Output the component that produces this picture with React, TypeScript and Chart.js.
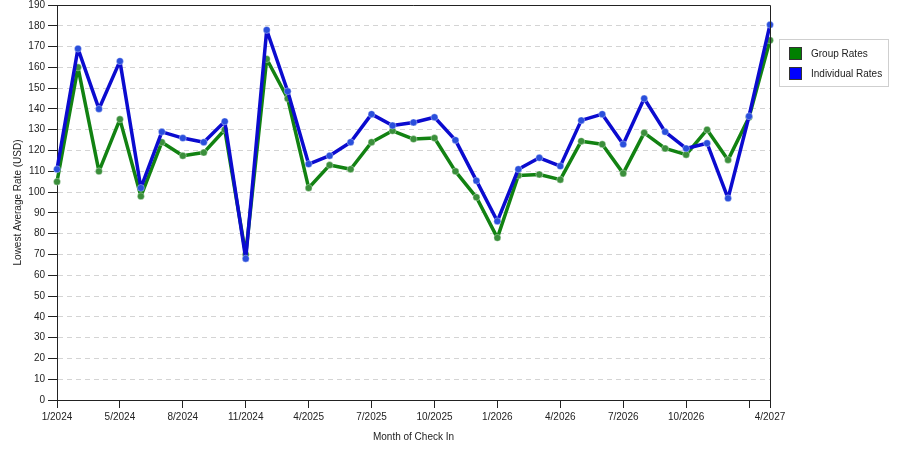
import { useEffect, useRef } from "react";
import { Chart, registerables } from "chart.js";
Chart.register(...registerables);

// months that have data (some months are missing from the source)
const months = [
  "1/2024", "2/2024", "3/2024", "5/2024", "6/2024", "7/2024", "8/2024", "9/2024",
  "10/2024", "11/2024", "12/2024", "2/2025", "4/2025", "5/2025", "6/2025", "7/2025",
  "8/2025", "9/2025", "10/2025", "11/2025", "12/2025", "1/2026", "2/2026", "3/2026",
  "4/2026", "5/2026", "6/2026", "7/2026", "8/2026", "9/2026", "10/2026", "11/2026",
  "12/2026", "1/2027", "4/2027",
];
const groupRates = [
  105, 160, 110, 135, 98, 124, 117.5, 119, 130, 70, 164, 145, 102, 113, 111, 124,
  129.5, 125.5, 126, 110, 97.5, 78, 108, 108.5, 106, 124.5, 123, 109, 128.5, 121,
  118, 130, 115.5, 136, 173,
];
const individualRates = [
  111, 169, 140, 163, 102, 129, 126, 124, 134, 68, 178, 148.5, 113.5, 117.5, 124,
  137.5, 132, 133.5, 136, 125, 105.5, 86, 111, 116.5, 112.5, 134.5, 137.5, 123, 145,
  129, 121, 123.5, 97, 136.5, 180.5,
];
const seriesNames = ["Group Rates", "Individual Rates"];
const seriesColors = ["#128212", "#0b0bcf"];
const pointColors = ["#3b8f3b", "#2a4fdc"];
const swatchColors = ["#008000", "#0000ff"];

const FONT = "'Liberation Sans', Arial, sans-serif";
const lastIdx = months.length - 1;
const labelShown = (i: number) => (i % 3 === 0 && i !== lastIdx - 1) || i === lastIdx;
const tickShown = (i: number) => i % 3 === 0 || i === lastIdx;

const frame = {
  id: "frame",
  afterDatasetsDraw(chart: Chart) {
    const { ctx, chartArea: a } = chart;
    ctx.save();
    ctx.strokeStyle = "#222";
    ctx.lineWidth = 1;
    ctx.beginPath();
    ctx.moveTo(a.left, a.top + 0.5);
    ctx.lineTo(a.right + 0.5, a.top + 0.5);
    ctx.lineTo(a.right + 0.5, a.bottom);
    ctx.stroke();
    ctx.restore();
  },
};

export default function App() {
  const ref = useRef<HTMLCanvasElement>(null);

  useEffect(() => {
    if (!ref.current) return;
    const chart = new Chart(ref.current, {
      type: "line",
      data: {
        labels: months,
        datasets: [groupRates, individualRates].map((d, k) => ({
          label: seriesNames[k],
          data: d,
          borderColor: seriesColors[k],
          borderWidth: 3.5,
          borderJoinStyle: "round" as const,
          pointRadius: 3.5,
          pointBackgroundColor: pointColors[k],
          pointBorderColor: "rgba(255,255,255,0.35)",
          pointBorderWidth: 1,
          tension: 0,
          order: k === 0 ? 1 : 0,
        })),
      },
      options: {
        animation: false,
        responsive: false,
        devicePixelRatio: 1,
        layout: { padding: { left: 0, right: 130, top: 4, bottom: 0 } },
        plugins: { legend: { display: false }, tooltip: { enabled: false } },
        scales: {
          x: {
            offset: false,
            afterFit: (s: any) => { s.height = 50; },
            grid: {
              drawOnChartArea: false,
              tickLength: 8,
              tickColor: (c: any) => (tickShown(c.index) ? "#222" : "rgba(0,0,0,0)"),
            },
            border: { color: "#222" },
            ticks: {
              autoSkip: false,
              maxRotation: 0,
              padding: 3,
              color: "#222",
              font: { family: FONT, size: 10 },
              callback: (_v: any, i: number) => (labelShown(i) ? months[i] : ""),
            },
            title: {
              display: true,
              text: "Month of Check In",
              color: "#222",
              font: { family: FONT, size: 10 },
              padding: { top: 0, bottom: 7 },
            },
          },
          y: {
            min: 0,
            max: 190,
            afterFit: (s: any) => { s.width = 57; s.paddingTop = 0; s.paddingBottom = 0; },
            grid: {
              color: "#d4d4d4",
              tickColor: "#222",
              tickLength: 9,
              tickBorderDash: [],
            },
            border: { color: "#222", dash: [5, 4] },
            ticks: {
              stepSize: 10,
              padding: 3,
              color: "#222",
              font: { family: FONT, size: 10 },
            },
            title: {
              display: true,
              text: "Lowest Average Rate (USD)",
              color: "#222",
              font: { family: FONT, size: 10 },
              padding: { top: 12, bottom: 0 },
            },
          },
        },
      },
      plugins: [frame],
    });
    return () => chart.destroy();
  }, []);

  return (
    <div style={{ position: "fixed", left: 0, top: 0, width: 900, height: 450, background: "#fff" }}>
      <canvas ref={ref} width={900} height={450} style={{ display: "block" }} />
      <div
        style={{
          position: "absolute",
          left: 779,
          top: 39,
          width: 108,
          height: 46,
          border: "1px solid #cfcfcf",
          fontFamily: FONT,
          fontSize: 10,
          color: "#222",
        }}
      >
        {seriesNames.map((n, k) => (
          <div key={n} style={{ position: "absolute", left: 9, top: 7 + k * 20, display: "flex", alignItems: "center", whiteSpace: "nowrap" }}>
            <span style={{ display: "inline-block", width: 11, height: 11, background: swatchColors[k], border: "1px solid #333", marginRight: 9 }} />
            {n}
          </div>
        ))}
      </div>
    </div>
  );
}
